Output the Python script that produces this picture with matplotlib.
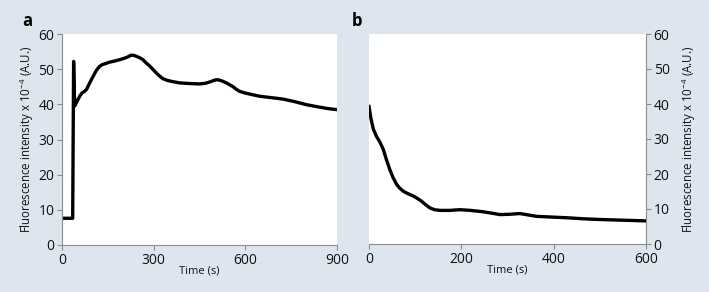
import matplotlib.pyplot as plt

# panel a: time (s) and fluorescence (x10^-4 A.U.)
time_a = [0, 34, 35, 38, 41.5, 46, 50, 58, 65, 72, 80, 88, 96, 104, 112, 123, 132,
          140, 156, 172, 189, 200, 210, 218, 227, 236, 245, 255, 265, 275, 287, 298,
          310, 320, 330, 345, 360, 385, 420, 451, 470, 485, 497, 505, 515, 525, 538,
          550, 560, 570, 581, 600, 620, 647, 685, 723, 760, 800, 843, 870, 898]
val_a = [7.6, 7.6, 7.6, 52.2, 39.5, 40.3, 41, 42.3, 43.2, 43.6, 44.2, 45.6, 47, 48.3,
         49.6, 50.8, 51.3, 51.5, 52, 52.3, 52.7, 53, 53.3, 53.6, 54.0, 53.9, 53.6,
         53.2, 52.7, 51.8, 50.9, 49.9, 48.8, 48.0, 47.3, 46.8, 46.5, 46.1, 45.9, 45.8,
         46.0, 46.4, 46.8, 47.0, 46.9, 46.6, 46.1, 45.5, 45.0, 44.3, 43.7, 43.2,
         42.8, 42.3, 41.9, 41.5, 40.8, 39.9, 39.2, 38.8, 38.5]

# panel b
time_b = [0, 4, 9.4, 16, 24, 31, 38, 45, 52, 60, 67, 74, 84, 96, 105, 114, 123, 132,
          142, 154, 175, 197, 220, 248, 266, 284, 305, 327, 345, 363, 395, 428, 465,
          500, 550, 600]
val_b = [39.3, 36, 32.8, 30.8, 29, 27, 24, 21.3, 19, 17, 15.9, 15.1, 14.4, 13.7,
         13.0, 12.2, 11.2, 10.3, 9.8, 9.6, 9.6, 9.8, 9.6, 9.2, 8.8, 8.4, 8.5, 8.7,
         8.3, 7.9, 7.7, 7.5, 7.2, 7.0, 6.8, 6.6]

bg = '#dde6ef'
grey = '#8c8c8c'
plt.rcParams['font.family'] = ['Open Sans', 'DejaVu Sans']

fig = plt.figure(figsize=(7.09, 2.92), dpi=100, facecolor=bg)
W, H = 709, 292
ax_a = fig.add_axes([62 / W, 1 - 245 / H, (337 - 62) / W, (245 - 34) / H])
ax_b = fig.add_axes([369 / W, 1 - 244 / H, (646 - 369) / W, (244 - 34) / H])

ylab = r'Fluorescence intensity x 10$^{\mathregular{-4}}$ (A.U.)'

for ax, t, v, xmax, xt in [(ax_a, time_a, val_a, 900, [0, 300, 600, 900]),
                           (ax_b, time_b, val_b, 600, [0, 200, 400, 600])]:
    ax.set_facecolor('white')
    ax.plot(t, v, color='black', lw=2.4, solid_joinstyle='round')
    ax.set_xlim(0, xmax)
    ax.set_ylim(0, 60)
    ax.set_xticks(xt)
    ax.set_yticks(range(0, 61, 10))
    for s in ax.spines.values():
        s.set_visible(False)
    ax.spines['bottom'].set_visible(True)
    ax.spines['bottom'].set_color(grey)
    ax.tick_params(colors=grey, labelcolor='#111111', labelsize=10, length=3.5,
                   width=0.8, pad=2)
    ax.set_xlabel('Time (s)', fontsize=8, labelpad=-1.5, color='#111111')
    ax.set_ylabel(ylab, fontsize=8.3, color='#111111')

ax_a.spines['left'].set_visible(True)
ax_a.spines['left'].set_color(grey)
ax_a.yaxis.labelpad = 2

ax_b.spines['right'].set_visible(True)
ax_b.spines['right'].set_color(grey)
ax_b.yaxis.tick_right()
ax_b.yaxis.set_label_position('right')
ax_b.yaxis.labelpad = 7

fig.text(27 / W, 1 - 21 / H, 'a', fontsize=12, fontweight='bold', va='center', ha='center')
fig.text(357 / W, 1 - 21 / H, 'b', fontsize=12, fontweight='bold', va='center', ha='center')

fig.savefig('out.png', dpi=100, facecolor=bg)
